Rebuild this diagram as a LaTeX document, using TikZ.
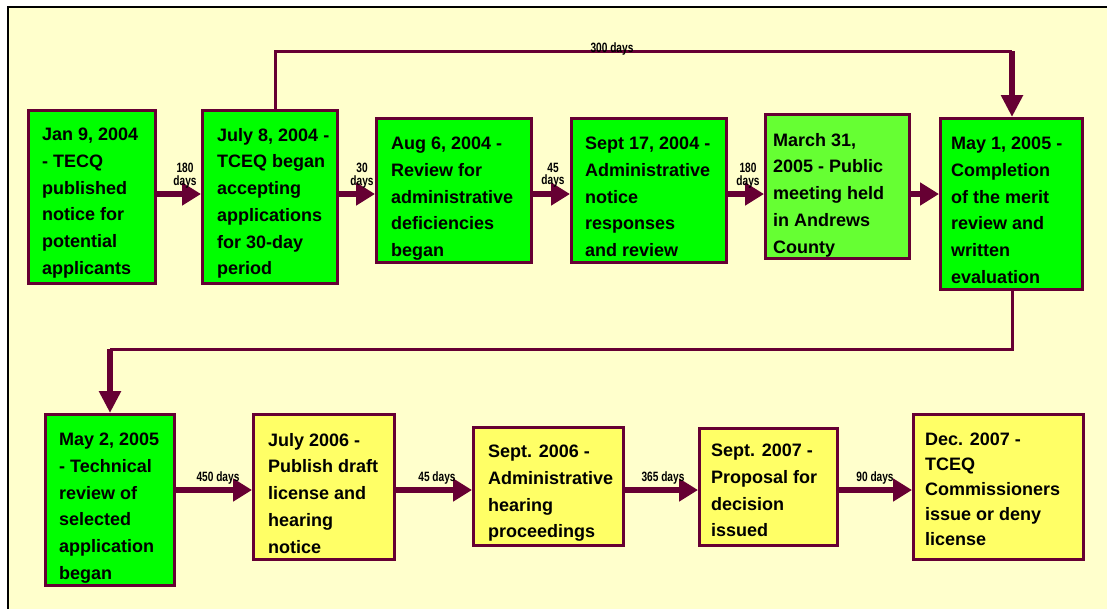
\documentclass[tikz,border=0pt]{standalone}
\usepackage{fontspec}
\setmainfont{Liberation Sans}
\newfontfamily\labfont[FakeStretch=0.75]{Liberation Sans}
\usetikzlibrary{arrows.meta}
\definecolor{cream}{HTML}{FFFFCC}
\definecolor{maroon}{HTML}{660033}
\definecolor{bgreen}{HTML}{00FF00}
\definecolor{lgreen}{HTML}{66FF33}
\definecolor{byellow}{HTML}{FFFF66}
\tikzset{
 box/.style={draw=maroon, line width=3pt, rectangle, inner sep=0pt},
 txt/.style={anchor=north west, inner sep=0pt, align=left, font=\fontsize{18}{26.7}\selectfont\bfseries, text=black},
 lab/.style={inner sep=0pt, align=center, font=\labfont\bfseries\fontsize{13.5}{12.5}\selectfont},
 flow/.style={draw=maroon, line width=6pt, -{Triangle[length=19pt,width=22pt]}},
 wire/.style={draw=maroon, line width=3pt, line join=miter},
 drop/.style={draw=maroon, line width=5.5pt, -{Triangle[length=22pt,width=21pt]}},
}
\begin{document}
\begin{tikzpicture}[x=1pt,y=-1pt]
\useasboundingbox (0,0) rectangle (1107,608);
\clip (0,0) rectangle (1107,608);
\fill[white] (0,0) rectangle (1107,608);
\draw[black, line width=1.5pt, fill=cream] (8,7) rectangle (1130,630);
% rows
\coordinate (r1) at (0,194);
\coordinate (r2) at (0,490);
% boxes top row
\node[box, fill=bgreen, minimum width=127pt, minimum height=173pt] (b1) at (92,197) {};
\node[box, fill=bgreen, minimum width=135pt, minimum height=173pt] (b2) at (270,197) {};
\node[box, fill=bgreen, minimum width=155pt, minimum height=144pt] (b3) at (454,190.5) {};
\node[box, fill=bgreen, minimum width=155pt, minimum height=144pt] (b4) at (649,190.5) {};
\node[box, fill=lgreen, minimum width=144pt, minimum height=144pt] (b5) at (837.5,186.5) {};
\node[box, fill=bgreen, minimum width=142pt, minimum height=171pt] (b6) at (1011.5,204) {};
% boxes bottom row
\node[box, fill=bgreen, minimum width=129pt, minimum height=171pt] (b7) at (110,500) {};
\node[box, fill=byellow, minimum width=141pt, minimum height=145pt] (b8) at (324,487) {};
\node[box, fill=byellow, minimum width=150pt, minimum height=118pt] (b9) at (548.5,486.5) {};
\node[box, fill=byellow, minimum width=138pt, minimum height=117pt] (b10) at (768.5,487) {};
\node[box, fill=byellow, minimum width=170pt, minimum height=145pt] (b11) at (998.5,487) {};
% texts
\node[txt] (t1) at (42,128) {Jan 9, 2004\\- TECQ\\published\\notice for\\potential\\applicants};
\node[txt] (t2) at (217,128) {July 8, 2004 -\\TCEQ began\\accepting\\applications\\for 30-day\\period};
\node[txt] (t3) at (391,137) {Aug 6, 2004 -\\Review for\\administrative\\deficiencies\\began};
\node[txt] (t4) at (585,137) {Sept 17, 2004 -\\Administrative\\notice\\responses\\and review};
\node[txt] (t5) at (773,133) {March 31,\\2005 - Public\\meeting held\\in Andrews\\County};
\node[txt] (t6) at (951,137) {May 1, 2005 -\\Completion\\of the merit\\review and\\written\\evaluation};
\node[txt] (t7) at (59,433) {May 2, 2005\\- Technical\\review of\\selected\\application\\began};
\node[txt] (t8) at (268,433) {July 2006 -\\Publish draft\\license and\\hearing\\notice};
\node[txt] (t9) at (488,445) {Sept. 2006 -\\Administrative\\hearing\\proceedings};
\node[txt] (t10) at (711,444) {Sept. 2007 -\\Proposal for\\decision\\issued};
\node[txt, font=\fontsize{18}{25}\selectfont\bfseries] (t11) at (925,433) {Dec. 2007 -\\TCEQ\\Commissioners\\issue or deny\\license};
% long connectors
\coordinate (c1) at (275,51);
\coordinate (c2) at (1012,51);
\draw[wire] (b2.north -| c1) -- (c1) -- (c2);
\draw[drop] (c2) -- (b6.north -| c2);
\coordinate (c3) at (1012,349);
\coordinate (c4) at (110,349);
\draw[wire] (b6.south -| c3) -- (c3) -- (c4);
\draw[drop] (c4) -- (b7.north -| c4);
% flow arrows
\draw[flow] (b1.east |- r1) -- (b2.west |- r1);
\draw[flow] (b2.east |- r1) -- (b3.west |- r1);
\draw[flow] (b3.east |- r1) -- (b4.west |- r1);
\draw[flow] (b4.east |- r1) -- (b5.west |- r1);
\draw[flow] (b5.east |- r1) -- (b6.west |- r1);
\draw[flow] (b7.east |- r2) -- (b8.west |- r2);
\draw[flow] (b8.east |- r2) -- (b9.west |- r2);
\draw[flow] (b9.east |- r2) -- (b10.west |- r2);
\draw[flow] (b10.east |- r2) -- (b11.west |- r2);
% labels
\node[lab, anchor=north] (l1) at (185,163) {180\\days};
\node[lab, anchor=north] (l2) at (362,163) {30\\days};
\node[lab, anchor=north] (l3) at (553,163) {45\\days};
\node[lab, anchor=north] (l4) at (748,163) {180\\days};
\node[lab, anchor=base] (l5) at (612,52) {300 days};
\node[lab, anchor=base] (l6) at (218,481) {450 days};
\node[lab, anchor=base] (l7) at (437,481) {45 days};
\node[lab, anchor=base] (l8) at (663,481) {365 days};
\node[lab, anchor=base] (l9) at (875,481) {90 days};
\end{tikzpicture}
\end{document}
